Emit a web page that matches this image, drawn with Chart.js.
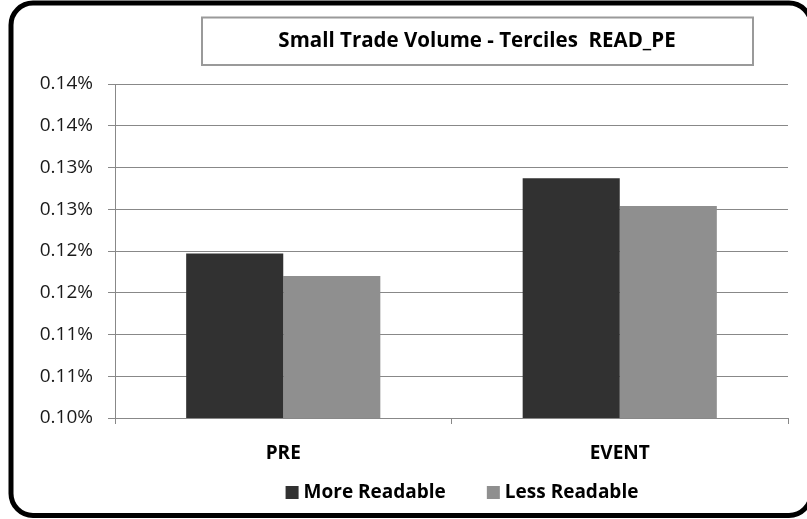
<!DOCTYPE html>
<html>
<head>
<meta charset="utf-8">
<script src="https://cdn.jsdelivr.net/npm/chart.js@4/dist/chart.umd.min.js"></script>
<style>
  html, body { margin: 0; padding: 0; background: #ffffff; }
  #wrap { width: 807px; height: 519px; position: relative; }
</style>
</head>
<body>
<div id="wrap"><canvas id="c" width="807" height="519"></canvas></div>
<script>
// Chart content
const chartTitle = 'Small Trade Volume - Terciles  READ_PE';
const categories = ['PRE', 'EVENT'];
const seriesNames = ['More Readable', 'Less Readable'];
const moreReadable = [0.1197, 0.1287];   // percent
const lessReadable = [0.1170, 0.1254];   // percent
const yTickLabels = ['0.10%', '0.11%', '0.11%', '0.12%', '0.12%', '0.13%', '0.13%', '0.14%', '0.14%'];

const FONT = "'Open Sans', 'Liberation Sans', sans-serif";
const seriesColors = ['#313131', '#8f8f8f'];

// Frame, title box and legend drawn around the plot
const decorations = {
  id: 'decorations',
  afterDraw(chart) {
    const ctx = chart.ctx;
    ctx.save();

    // rounded outer frame
    ctx.lineWidth = 5;
    ctx.strokeStyle = '#000000';
    ctx.beginPath();
    ctx.roundRect(11, 3, 800, 512.5, 22);
    ctx.stroke();

    // title box
    ctx.lineWidth = 2;
    ctx.strokeStyle = '#9a9a9a';
    ctx.strokeRect(202, 17.5, 551, 47.5);
    ctx.fillStyle = '#000000';
    ctx.font = "bold 20.5px " + FONT;
    ctx.textAlign = 'center';
    ctx.textBaseline = 'middle';
    ctx.fillText(chartTitle, 477, 41);

    // legend
    ctx.font = "bold 19px " + FONT;
    ctx.textAlign = 'left';
    const box = 13, gapText = 5, gapItem = 41;
    const items = chart.data.datasets.map(ds => ({
      label: ds.label, color: ds.backgroundColor, w: ctx.measureText(ds.label).width
    }));
    const total = items.reduce((s, it) => s + box + gapText + it.w, 0) + gapItem * (items.length - 1);
    let x = 462 - total / 2;
    const cy = 492.5;
    items.forEach(it => {
      ctx.fillStyle = it.color;
      ctx.fillRect(x, cy - box / 2, box, box);
      x += box + gapText;
      ctx.fillStyle = '#000000';
      ctx.fillText(it.label, x, cy);
      x += it.w + gapItem;
    });

    ctx.restore();
  }
};

new Chart(document.getElementById('c'), {
  type: 'bar',
  data: {
    labels: categories,
    datasets: [
      { label: seriesNames[0], data: moreReadable, backgroundColor: seriesColors[0] },
      { label: seriesNames[1], data: lessReadable, backgroundColor: seriesColors[1] }
    ]
  },
  options: {
    responsive: false,
    devicePixelRatio: 1,
    animation: false,
    layout: { padding: { top: 84, left: 20, right: 19, bottom: 57 } },
    datasets: { bar: { categoryPercentage: 0.577, barPercentage: 1.0, borderWidth: 0 } },
    plugins: {
      legend: { display: false },
      title: { display: false },
      tooltip: { enabled: false }
    },
    scales: {
      x: {
        grid: { offset: true, drawOnChartArea: false, tickLength: 6, color: '#888888', lineWidth: 1 },
        border: { color: '#888888', width: 1 },
        ticks: { color: '#000000', padding: 18, font: { family: FONT, size: 19, weight: 'bold' } },
        afterFit(scale) { scale.height = 44; }
      },
      y: {
        min: 0.1,
        max: 0.14,
        ticks: {
          stepSize: 0.005,
          padding: 15,
          color: '#1a1a1a',
          font: { family: FONT, size: 19 },
          callback: (value, index) => yTickLabels[index]
        },
        grid: { color: '#888888', lineWidth: 1, tickLength: 7 },
        border: { color: '#888888', width: 1 },
        afterFit(scale) { scale.width = 95; }
      }
    }
  },
  plugins: [decorations]
});
</script>
</body>
</html>
